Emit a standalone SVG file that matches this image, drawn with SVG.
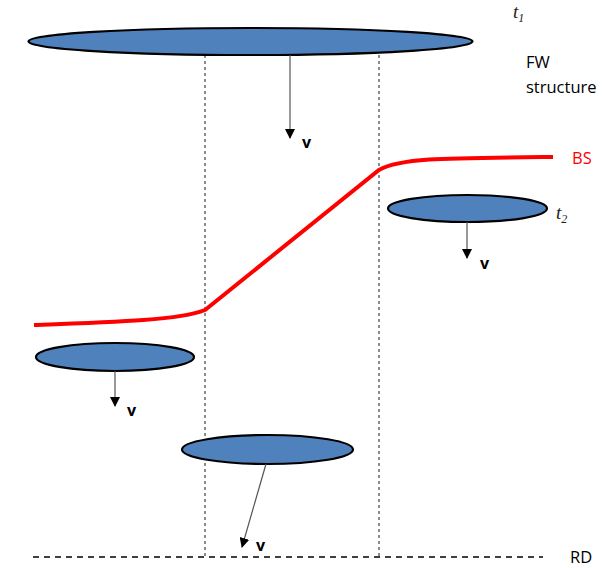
<svg xmlns="http://www.w3.org/2000/svg" width="602" height="568" viewBox="0 0 602 568">
<defs>
<marker id="ah" viewBox="0 0 10 10" refX="9" refY="5" markerWidth="10" markerHeight="10" markerUnits="userSpaceOnUse" orient="auto">
<path d="M0,0 L10,5 L0,10 z" fill="#000"/>
</marker>
<style>
.body{fill:#4F81BD;stroke:#000;stroke-width:2.2}
.vel{stroke:#555;stroke-width:1.2;fill:none;marker-end:url(#ah)}
.v{font-family:"Open Sans","Liberation Sans",sans-serif;font-weight:bold;font-size:16px;fill:#000}
.lbl{font-family:"Open Sans","Liberation Sans",sans-serif;font-size:16.5px;fill:#000}
.t{font-family:"Liberation Serif",serif;font-style:italic;font-size:19px;fill:#222}
.guide{stroke:#000;stroke-width:0.9;stroke-dasharray:3,3;fill:none}
</style>
</defs>
<g id="guides">
<line class="guide" x1="205" y1="55" x2="205" y2="557"/>
<line class="guide" x1="379" y1="55" x2="379" y2="557"/>
</g>
<g id="RD">
<line x1="33" y1="557" x2="543" y2="557" stroke="#000" stroke-width="1.3" stroke-dasharray="6,5"/>
<text class="lbl" x="570" y="563">RD</text>
</g>
<g id="BS">
<path d="M34,325 C120,322 180,320 205,310 L379,170 C400,158 440,158 553,157" fill="none" stroke="#FF0000" stroke-width="4"/>
<text class="lbl" x="572" y="164" style="fill:#FF0000">BS</text>
</g>
<g id="fw-t1">
<ellipse class="body" cx="250.5" cy="41.5" rx="222" ry="13.5"/>
<text class="t" x="513" y="18">t<tspan font-size="12" dy="4">1</tspan></text>
<text class="lbl" x="526" y="68">FW</text>
<text class="lbl" x="526" y="93">structure</text>
</g>
<g id="fw-t2">
<ellipse class="body" cx="467.5" cy="208.5" rx="79.5" ry="13.5"/>
<text class="t" x="556" y="219">t<tspan font-size="12" dy="4">2</tspan></text>
</g>
<g id="body-left">
<ellipse class="body" cx="115" cy="357" rx="79" ry="14"/>
</g>
<g id="body-bottom">
<ellipse class="body" cx="267.5" cy="449.5" rx="85.5" ry="14.5"/>
</g>
<g id="connectors">
<line class="vel" x1="290" y1="55" x2="290" y2="138"/>
<line class="vel" x1="467" y1="222" x2="467" y2="258"/>
<line class="vel" x1="115" y1="371" x2="115" y2="406"/>
<line class="vel" x1="266" y1="464" x2="242" y2="547"/>
</g>
<g id="v-labels">
<text class="v" x="302" y="148">v</text>
<text class="v" x="480" y="269">v</text>
<text class="v" x="127" y="416">v</text>
<text class="v" x="256" y="551">v</text>
</g>
</svg>
